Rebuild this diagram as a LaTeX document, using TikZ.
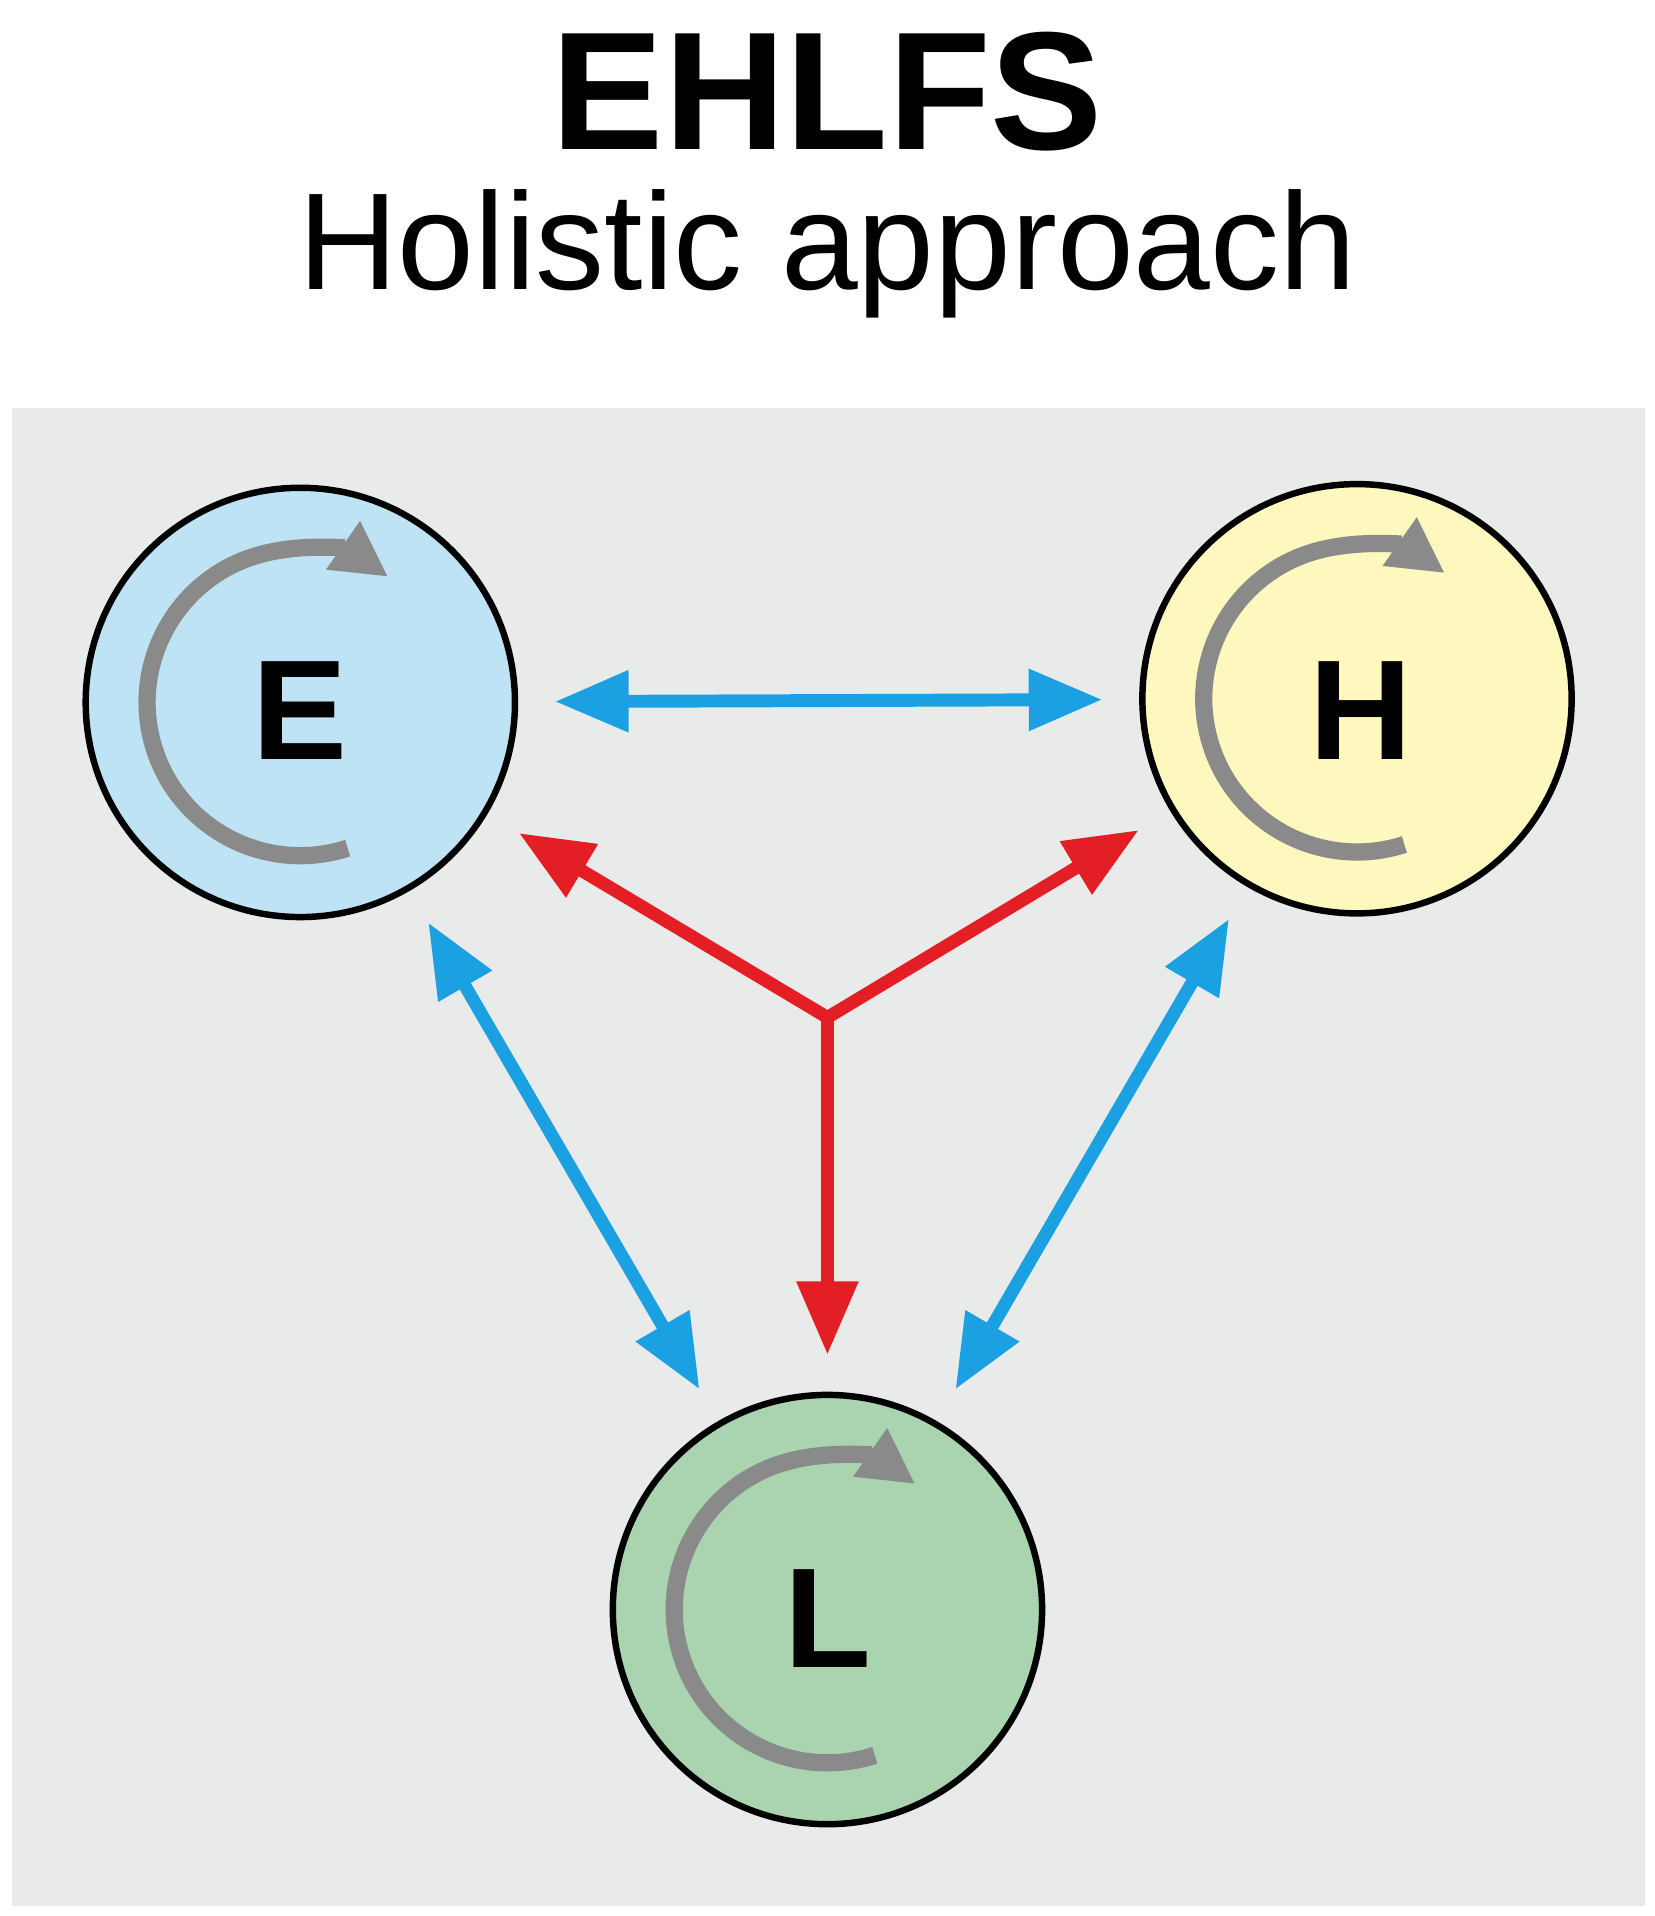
\documentclass[tikz,border=0pt]{standalone}
\usepackage{fontspec}
\setmainfont{Liberation Sans}
\usetikzlibrary{arrows.meta}
\definecolor{panel}{HTML}{E9EBEB}
\definecolor{cE}{HTML}{BEE3F4}
\definecolor{cH}{HTML}{FFF8BE}
\definecolor{cL}{HTML}{A9D4AF}
\definecolor{ablue}{HTML}{1BA1E2}
\definecolor{ared}{HTML}{E31E24}
\definecolor{agray}{HTML}{8A8A8A}
\begin{document}
\begin{tikzpicture}[x=0.01cm,y=-0.01cm,
  circ/.style={circle,draw=black,line width=1.5pt,minimum size=3.5cm,inner sep=0pt},
  conn/.style={line width=3pt,{Triangle[length=0.6cm,width=0.48cm]}-{Triangle[length=0.6cm,width=0.48cm]},shorten <=0.3cm,shorten >=0.3cm},
  red/.style={line width=3pt,ared,-{Triangle[length=0.6cm,width=0.48cm]},shorten >=0.3cm},
  cyc/.style={agray,line width=4pt,-{Triangle[length=0.45cm,width=0.45cm]}}]
\useasboundingbox (0,0) rectangle (1350,1563);
\fill[panel] (10,333) rectangle (1342,1555);
\node[font=\fontsize{39}{39}\selectfont\bfseries] (t) at (675,75) {EHLFS};
\node[font=\fontsize{32}{32}\selectfont] (s) at (675,207) {Holistic approach};
\node[circ,fill=cE] (E) at (245,573) {};
\node[circ,fill=cH] (H) at (1107,570) {};
\node[circ,fill=cL] (L) at (675,1313) {};
\foreach \n in {E,H,L}{
  \draw[cyc] (\n) ++(72:125) arc[start angle=72,end angle=305,radius=125];
}
\node[font=\fontsize{33}{33}\selectfont\bfseries] (lE) at (245,580) {E};
\node[font=\fontsize{33}{33}\selectfont\bfseries] (lH) at (1110,580) {H};
\node[font=\fontsize{33}{33}\selectfont\bfseries] (lL) at (675,1320) {L};
\draw[conn,ablue] (E) -- (H);
\draw[conn,ablue] (E) -- (L);
\draw[conn,ablue] (H) -- (L);
\coordinate (hub) at (675,830);
\draw[red] (hub) -- (E);
\draw[red] (hub) -- (H);
\draw[red] (hub) -- (L);
\end{tikzpicture}
\end{document}
